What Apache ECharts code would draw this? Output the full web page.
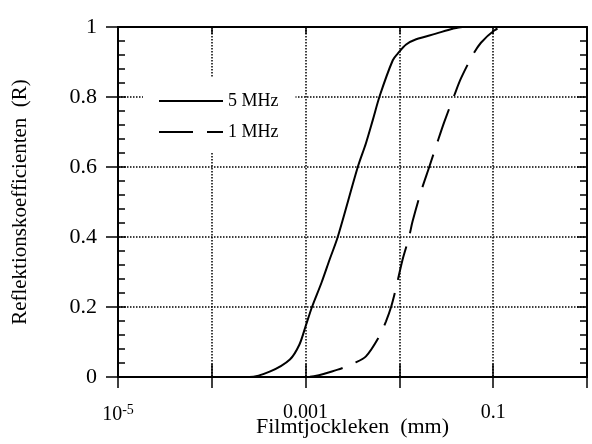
<!DOCTYPE html>
<html>
<head>
<meta charset="utf-8">
<script src="https://cdn.jsdelivr.net/npm/echarts@6/dist/echarts.min.js"></script>
<style>html,body{margin:0;padding:0;background:#fff}#c{width:592px;height:444px}</style>
</head>
<body>
<div id="c"></div>
<script>
// Film thickness (mm) and reflection coefficient
var seriesNames = ['5 MHz', '1 MHz'];
var x5 = [1e-5, 2.5e-4, 4.2e-4, 6.8e-4, 8.6e-4, 1.0e-3, 1.17e-3, 1.48e-3, 1.8e-3, 2.2e-3, 3.6e-3, 4.4e-3, 5.2e-3, 6.2e-3, 8.5e-3, 9.6e-3, 0.0118, 0.0151, 0.0245, 0.037, 0.047, 1];
var r5 = [0, 0, 0.016, 0.05, 0.093, 0.145, 0.2, 0.27, 0.335, 0.4, 0.6, 0.668, 0.734, 0.805, 0.905, 0.924, 0.95, 0.965, 0.981, 0.995, 1.0, 1.0];
var x1 = [1e-5, 1.02e-3, 2.2e-3, 3.3e-3, 4.4e-3, 6.1e-3, 7.2e-3, 8.2e-3, 9.2e-3, 0.0108, 0.0126, 0.0138, 0.017, 0.0208, 0.0255, 0.0301, 0.0385, 0.0453, 0.0603, 0.074, 0.1026, 0.126, 1];
var r1 = [0, 0, 0.021, 0.04, 0.059, 0.116, 0.159, 0.202, 0.254, 0.335, 0.397, 0.444, 0.53, 0.6, 0.672, 0.729, 0.805, 0.853, 0.919, 0.955, 0.99, 1.0, 1.0];
var xLabelExps = [-5, -3, -1];
var xLabelTexts = ['{n|10}{s|-5}', '0.001', '0.1'];
var xTitle = 'Filmtjockleken  (mm)';
var yTitle = 'Reflektionskoefficienten  (R)';

var FONT = 'Liberation Serif';
function pairs(xs, ys) { return xs.map(function (x, i) { return [x, ys[i]]; }); }
var axLine = { show: true, lineStyle: { color: '#000', width: 2 } };
function xAx(pos, inside, len, extra) {
  return Object.assign({
    type: 'log', logBase: 10, min: 1e-5, max: 1, splitNumber: 5, position: pos,
    axisLine: axLine,
    axisTick: { show: true, inside: inside, length: len, lineStyle: { color: '#000', width: 1.5 } },
    axisLabel: { show: false }, splitLine: { show: false }
  }, extra || {});
}
function yAx(pos, inside, len, extra) {
  return Object.assign({
    type: 'value', min: 0, max: 1, interval: 0.2, position: pos,
    axisLine: axLine,
    axisTick: { show: true, inside: inside, length: len, lineStyle: { color: '#000', width: 1.5 } },
    axisLabel: { show: false }, splitLine: { show: false }
  }, extra || {});
}
var chart = echarts.init(document.getElementById('c'));
chart.setOption({
  animation: false,
  backgroundColor: '#fff',
  grid: { left: 118, right: 5, top: 27, bottom: 67, containLabel: false, outerBoundsMode: 'none' },
  legend: {
    data: seriesNames, orient: 'vertical', left: 143, top: 77,
    backgroundColor: '#fff', padding: [15, 17, 12, 15],
    itemWidth: 64, itemHeight: 14, itemGap: 13,
    itemStyle: { opacity: 0 },
    textStyle: { fontFamily: FONT, fontSize: 18, color: '#000' }
  },
  xAxis: [
    xAx('bottom', false, 11, {
      axisLabel: {
        show: true, margin: 26, color: '#000', fontFamily: FONT, fontSize: 20,
        formatter: function (v) {
          var e = Math.round(Math.log(v) / Math.LN10);
          var i = xLabelExps.indexOf(e);
          return i >= 0 ? xLabelTexts[i] : '';
        },
        rich: {
          n: { fontFamily: FONT, fontSize: 20, color: '#000' },
          s: { fontFamily: FONT, fontSize: 14, color: '#000', padding: [0, 0, 9, 0] }
        }
      },
      splitLine: { show: true, lineStyle: { color: '#000', type: 'dotted', width: 1.5 } },
      name: xTitle, nameLocation: 'middle', nameGap: 39, nameMoveOverlap: false,
      nameTextStyle: { fontFamily: FONT, fontSize: 22, color: '#000' }
    }),
    xAx('bottom', true, 13),
    xAx('top', false, 12),
    xAx('top', true, 7)
  ],
  yAxis: [
    yAx('left', false, 12, {
      axisLabel: { show: true, margin: 21, color: '#000', fontFamily: FONT, fontSize: 22 },
      splitLine: { show: true, lineStyle: { color: '#000', type: 'dotted', width: 1.5 } },
      name: yTitle, nameLocation: 'middle', nameGap: 87, nameMoveOverlap: false,
      nameTextStyle: { fontFamily: FONT, fontSize: 21, color: '#000' }
    }),
    yAx('left', true, 8, { minorTick: { show: true, splitNumber: 5, length: 7, lineStyle: { color: '#000', width: 1.5 } } }),
    yAx('right', true, 10, { minorTick: { show: true, splitNumber: 5, length: 7, lineStyle: { color: '#000', width: 1.5 } } })
  ],
  series: [
    { name: seriesNames[0], type: 'line', xAxisIndex: 0, yAxisIndex: 0, symbol: 'none', smooth: 0.3,
      data: pairs(x5, r5), lineStyle: { color: '#000', width: 2 }, itemStyle: { color: '#000' } },
    { name: seriesNames[1], type: 'line', xAxisIndex: 0, yAxisIndex: 0, symbol: 'none', smooth: 0.3,
      data: pairs(x1, r1), lineStyle: { color: '#000', width: 2, type: [34, 14] }, itemStyle: { color: '#000' } }
  ]
});
</script>
</body>
</html>
